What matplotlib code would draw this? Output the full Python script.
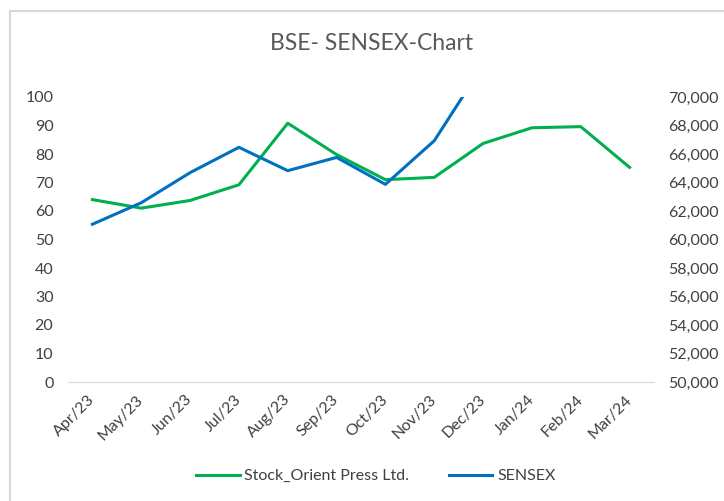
import matplotlib.pyplot as plt
import matplotlib.ticker as mticker
from matplotlib.lines import Line2D

# データ
months = ["Apr/23", "May/23", "Jun/23", "Jul/23", "Aug/23", "Sep/23",
          "Oct/23", "Nov/23", "Dec/23", "Jan/24", "Feb/24", "Mar/24"]
stock = [64.0, 61.0, 63.7, 69.2, 90.8, 79.8, 71.0, 71.8, 83.7, 89.2, 89.6, 75.3]
sensex = [61070, 62580, 64690, 66470, 64830, 65760, 63870, 66930, 72240, 71750, 72500, 73650]

green = "#00b050"
blue = "#0070c0"
txt = "#404040"

plt.rcParams['font.family'] = ['Lato', 'DejaVu Sans']

fig = plt.figure(figsize=(7.24, 5.01), dpi=100)
ax1 = fig.add_axes([68/724, 1-382/501, (654-68)/724, (382-97)/501])
ax2 = ax1.twinx()

x = list(range(len(months)))
ax1.plot(x, stock, color=green, lw=2.2, solid_joinstyle='round')
ax2.plot(x, sensex, color=blue, lw=2.2, solid_joinstyle='round')

ax1.set_xlim(-0.5, len(months) - 0.5)
ax1.set_ylim(0, 100)
ax2.set_ylim(50000, 70000)
ax1.set_yticks(range(0, 101, 10))
ax2.set_yticks(range(50000, 70001, 2000))
ax2.yaxis.set_major_formatter(mticker.StrMethodFormatter("{x:,.0f}"))

ax1.set_xticks(x)
ax1.set_xticklabels(months, rotation=45, ha='right', va='center',
                    rotation_mode='anchor')

for ax in (ax1, ax2):
    for s in ax.spines.values():
        s.set_visible(False)
    ax.tick_params(length=0, labelsize=11.5, labelcolor=txt)
ax1.spines['bottom'].set_visible(True)
ax1.spines['bottom'].set_color("#d9d9d9")
ax1.tick_params(axis='y', pad=10.5)
ax1.tick_params(axis='x', pad=11)
ax2.tick_params(axis='y', pad=10)

fig.text(372/724, 1-44/501, "BSE- SENSEX-Chart", ha='center', va='center',
         fontsize=16.5, color="#595959")

handles = [Line2D([], [], color=green, lw=2.2), Line2D([], [], color=blue, lw=2.2)]
fig.legend(handles, ["Stock_Orient Press Ltd.", "SENSEX"], loc='center',
           bbox_to_anchor=(376/724, 1-476/501), ncol=2, frameon=False,
           fontsize=11.5, labelcolor=txt, handlelength=2.7, handletextpad=0.3,
           columnspacing=2.5)

# グラフ枠
fig.add_artist(Line2D([10/724, 10/724], [0, 1-11/501], color="#d9d9d9", lw=1.5))
fig.add_artist(Line2D([10/724, 1], [1-11/501, 1-11/501], color="#d9d9d9", lw=1.5))

fig.savefig("out.png", dpi=100)
